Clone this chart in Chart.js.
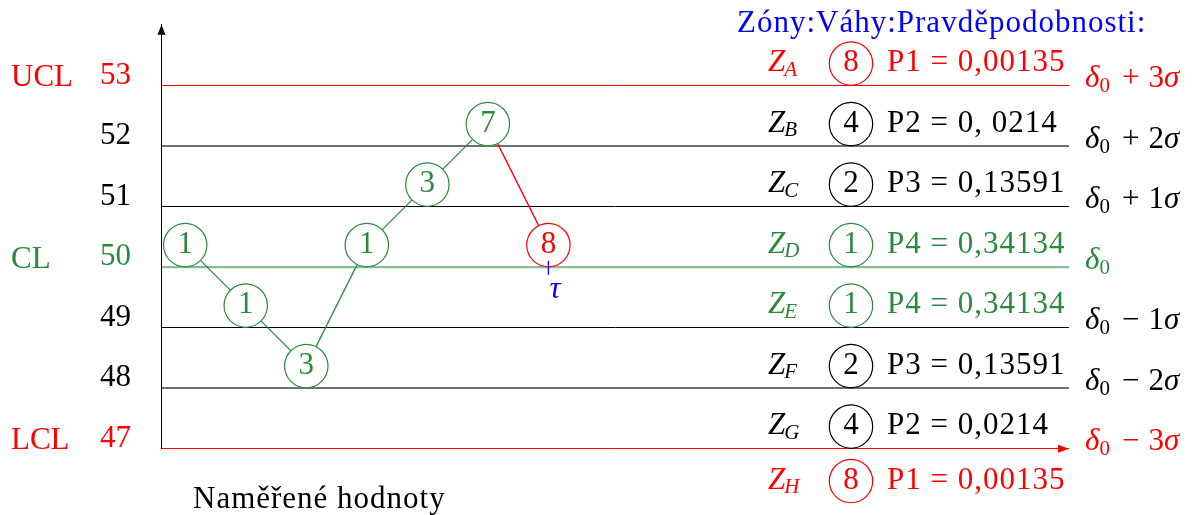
<!DOCTYPE html>
<html>
<head>
<meta charset="utf-8">
<script src="https://cdn.jsdelivr.net/npm/chart.js@4.4.0/dist/chart.umd.min.js"></script>
<style>
  html, body { margin: 0; padding: 0; background: #fff; }
</style>
</head>
<body>
<canvas id="controlChart" width="1192" height="515"></canvas>
<script>
// samples: position on x, measured value, weight written in the circle
const sampleX = [0.4, 1.4, 2.4, 3.4, 4.4, 5.4, 6.4];
const sampleValues = [50, 49, 48, 50, 51, 52, 50];
const sampleWeights = ['1', '1', '3', '1', '3', '7', '8'];

// y axis
const tickValues = [47, 48, 49, 50, 51, 52, 53, 54];
const limitNames = { 53: 'UCL', 50: 'CL', 47: 'LCL' };

// zones A..H, each sits on the line in zoneBase
const zoneNames = ['A', 'B', 'C', 'D', 'E', 'F', 'G', 'H'];
const zoneWeights = ['8', '4', '2', '1', '1', '2', '4', '8'];
const zoneProbs = ['P1 = 0,00135', 'P2 = 0, 0214', 'P3 = 0,13591', 'P4 = 0,34134',
                   'P4 = 0,34134', 'P3 = 0,13591', 'P2 = 0,0214', 'P1 = 0,00135'];
const zoneBase = [53, 52, 51, 50, 49, 48, 47, 46.1];

// sigma levels written right of the lines
const sigmaLevels = [53, 52, 51, 50, 49, 48, 47];
const sigmaSigns = ['+', '+', '+', '', '\u2212', '\u2212', '\u2212'];
const sigmaCounts = ['3', '2', '1', '', '1', '2', '3'];

const SERIF = '"Liberation Serif", "DejaVu Serif", serif';
const FS = 31;             // main text size
const SUB = 21;            // subscript size
const RED = '#ff0000';
const GREEN = '#2b8a3e';
const BLUE = '#0000ff';
const R = 21.7;            // circle radius in px
const last = sampleValues.length - 1;

function levelColor(v) {
  if (v === 53 || v === 47) return RED;
  if (v === 50) return GREEN;
  return '#000';
}

function zoneColor(i) {
  if (i === 0 || i === 7) return RED;
  if (i === 3 || i === 4) return GREEN;
  return '#000';
}

const gridStyle = {
  47: [RED, 1], 48: ['#707070', 2], 49: ['#000', 1], 50: ['#86bd92', 2.2],
  51: ['#000', 1], 52: ['#707070', 2], 53: [RED, 1], 54: ['rgba(0,0,0,0)', 1]
};

// circles hang above their value, so the whole dataset is lifted by one radius
const liftPoints = {
  id: 'liftPoints',
  beforeDatasetDraw(chart) { chart.ctx.save(); chart.ctx.translate(0, -R); },
  afterDatasetDraw(chart) { chart.ctx.restore(); }
};

function circled(ctx, cx, cy, txt, color) {
  ctx.strokeStyle = color;
  ctx.lineWidth = 1.2;
  ctx.beginPath();
  ctx.arc(cx, cy, R, 0, Math.PI * 2);
  ctx.stroke();
  ctx.fillStyle = color;
  ctx.textAlign = 'center';
  ctx.font = FS + 'px ' + SERIF;
  ctx.fillText(txt, cx, cy + 7.5);
}

// text with a little tracking, closer to the TeX look
function spaced(ctx, txt, x, y) {
  ctx.letterSpacing = '1px';
  ctx.fillText(txt, x, y);
  ctx.letterSpacing = '0px';
}

const annotations = {
  id: 'annotations',
  afterDraw(chart) {
    const { ctx, chartArea: a, scales: { y } } = chart;
    ctx.save();
    ctx.textBaseline = 'alphabetic';

    // arrow heads: top of y axis, end of the LCL line
    ctx.fillStyle = '#000';
    ctx.beginPath();
    ctx.moveTo(a.left + 0.5, a.top);
    ctx.lineTo(a.left - 3.5, a.top + 10);
    ctx.lineTo(a.left + 4.5, a.top + 10);
    ctx.closePath();
    ctx.fill();
    const yl = y.getPixelForValue(47);
    ctx.fillStyle = RED;
    ctx.beginPath();
    ctx.moveTo(a.right, yl + 0.5);
    ctx.lineTo(a.right - 11, yl - 3.5);
    ctx.lineTo(a.right - 11, yl + 4.5);
    ctx.closePath();
    ctx.fill();

    // weights inside the sample circles
    const meta = chart.getDatasetMeta(0);
    ctx.font = FS + 'px ' + SERIF;
    ctx.textAlign = 'center';
    meta.data.forEach((pt, i) => {
      ctx.fillStyle = i === last ? RED : GREEN;
      ctx.fillText(sampleWeights[i], pt.x, pt.y - R + 7.5);
    });

    // tau marker under the last sample
    const tx = meta.data[last].x;
    const t0 = y.getPixelForValue(sampleValues[last]);
    ctx.strokeStyle = BLUE;
    ctx.lineWidth = 1.3;
    ctx.beginPath();
    ctx.moveTo(tx, t0 - 6);
    ctx.lineTo(tx, t0 + 8);
    ctx.stroke();
    ctx.fillStyle = BLUE;
    ctx.font = 'italic ' + FS + 'px ' + SERIF;
    ctx.textAlign = 'left';
    ctx.fillText('\u03c4', tx + 1, t0 + 31);

    // UCL / CL / LCL on the left
    ctx.font = FS + 'px ' + SERIF;
    ctx.textAlign = 'left';
    Object.keys(limitNames).forEach(v => {
      ctx.fillStyle = levelColor(+v);
      ctx.fillText(limitNames[v], 11, y.getPixelForValue(+v) + 1);
    });

    // header of the zone table
    ctx.fillStyle = BLUE;
    spaced(ctx, 'Z\u00f3ny:V\u00e1hy:Pravd\u011bpodobnosti:', 737, 32);

    // zone rows
    zoneNames.forEach((name, i) => {
      const cy = y.getPixelForValue(zoneBase[i]) - R;
      const col = zoneColor(i);
      ctx.fillStyle = col;
      ctx.textAlign = 'left';
      ctx.font = 'italic ' + FS + 'px ' + SERIF;
      const zx = a.right - 301;
      ctx.fillText('Z', zx, cy + 7.5);
      const zw = ctx.measureText('Z').width;
      ctx.font = 'italic ' + SUB + 'px ' + SERIF;
      ctx.fillText(name, zx + zw - 1, cy + 12);
      circled(ctx, a.right - 218, cy, zoneWeights[i], col);
      ctx.fillStyle = col;
      ctx.textAlign = 'left';
      ctx.font = FS + 'px ' + SERIF;
      spaced(ctx, zoneProbs[i], a.right - 182, cy + 7.5);
    });

    // delta_0 +- k sigma to the right of the lines
    sigmaLevels.forEach((v, i) => {
      const by = y.getPixelForValue(v) + 2;
      let sx = a.right + 16;
      ctx.fillStyle = levelColor(v);
      ctx.textAlign = 'left';
      ctx.font = 'italic ' + FS + 'px ' + SERIF;
      ctx.fillText('\u03b4', sx, by);
      sx += ctx.measureText('\u03b4').width;
      ctx.font = SUB + 'px ' + SERIF;
      ctx.fillText('0', sx, by + 5);
      sx += ctx.measureText('0').width;
      if (sigmaSigns[i]) {
        ctx.font = FS + 'px ' + SERIF;
        sx += 12;
        ctx.fillText(sigmaSigns[i], sx, by);
        sx += ctx.measureText(sigmaSigns[i]).width + 9;
        ctx.fillText(sigmaCounts[i], sx, by);
        sx += ctx.measureText(sigmaCounts[i]).width;
        ctx.font = 'italic ' + FS + 'px ' + SERIF;
        ctx.fillText('\u03c3', sx, by);
      }
    });

    // x axis caption
    ctx.fillStyle = '#000';
    ctx.font = FS + 'px ' + SERIF;
    ctx.textAlign = 'left';
    spaced(ctx, 'Nam\u011b\u0159en\u00e9 hodnoty', a.left + 32, 508);
    ctx.restore();
  }
};

new Chart(document.getElementById('controlChart'), {
  type: 'line',
  data: {
    datasets: [{
      data: sampleX.map((xv, i) => ({ x: xv, y: sampleValues[i] })),
      borderColor: GREEN,
      borderWidth: 1.3,
      segment: { borderColor: c => c.p1DataIndex === last ? RED : GREEN },
      pointRadius: R,
      pointHoverRadius: R,
      pointBackgroundColor: '#fff',
      pointBorderColor: sampleValues.map((_, i) => i === last ? RED : GREEN),
      pointBorderWidth: 1.2,
      tension: 0,
      clip: false
    }]
  },
  options: {
    responsive: false,
    animation: false,
    devicePixelRatio: 1,
    layout: { padding: { left: 0, right: 123, top: 24.8, bottom: 66.7 } },
    plugins: { legend: { display: false }, tooltip: { enabled: false } },
    scales: {
      x: { type: 'linear', min: 0, max: 15, display: false },
      y: {
        type: 'linear',
        min: 47,
        max: 54,
        afterFit: s => { s.width = 161; s.paddingTop = 0; s.paddingBottom = 0; },
        afterBuildTicks: s => { s.ticks = tickValues.map(v => ({ value: v })); },
        border: { display: true, color: '#000', width: 1 },
        grid: {
          drawTicks: false,
          color: c => gridStyle[c.tick.value][0],
          lineWidth: c => gridStyle[c.tick.value][1]
        },
        ticks: {
          padding: 30,
          labelOffset: -9.5,
          font: { family: SERIF, size: FS },
          color: c => levelColor(c.tick.value),
          callback: v => v === 54 ? '' : String(v)
        }
      }
    }
  },
  plugins: [liftPoints, annotations]
});
</script>
</body>
</html>
